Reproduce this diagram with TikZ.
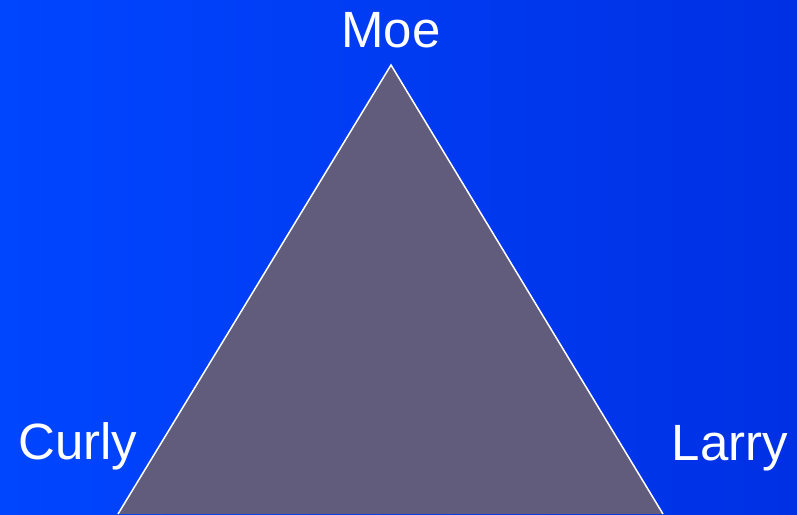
\documentclass[tikz,border=0pt]{standalone}
\usepackage{fontspec}
\setmainfont{Liberation Sans}
\definecolor{StoogeBlue}{RGB}{0,70,255}
\definecolor{StoogeDeep}{RGB}{0,48,228}
\definecolor{StoogeGray}{RGB}{98,92,124}

\begin{document}
\begin{tikzpicture}[x=1pt,y=1pt]
      \tikzset{stooge/.style={text=white,inner sep=0pt,anchor=base,font=\fontsize{51}{60}\selectfont}}
      \fill[left color=StoogeBlue,right color=StoogeDeep] (0,0) rectangle (797,514);
      \useasboundingbox (0,0) rectangle (797,514);
      \coordinate (top) at (391,449);
      \coordinate (left) at (118,0);
      \coordinate (right) at (663,0);
      \filldraw[fill=StoogeGray,draw=white,line width=1.5pt,line join=miter] (left) -- (top) -- (right);
      \node[stooge] (moe) at (391,466) {Moe};
      \node[stooge] (curly) at (78,55) {Curly};
      \node[stooge] (larry) at (730,54) {Larry};
    \end{tikzpicture}
\end{document}
